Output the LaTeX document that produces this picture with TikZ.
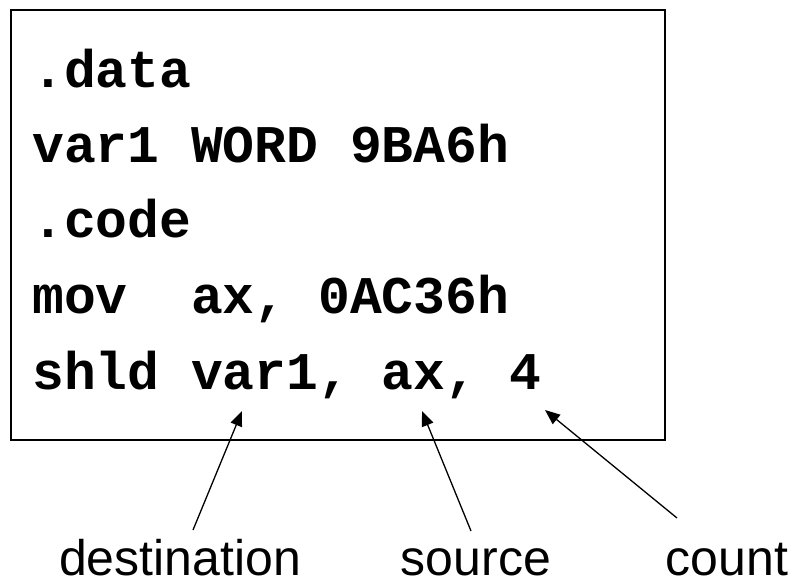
\documentclass[tikz,border=0pt]{standalone}
\usepackage{fontspec}
\setmainfont{Liberation Sans}
\newfontfamily\codefont{Liberation Mono}
\usetikzlibrary{arrows.meta}
\tikzset{
  codeline/.style={anchor=base west, inner sep=0pt, font=\codefont\bfseries\fontsize{53}{53}\selectfont},
  lbl/.style={anchor=base, inner sep=0pt, font=\fontsize{50}{50}\selectfont},
  pointer/.style={line width=1.3pt, -{Triangle[length=15pt,width=12pt]}},
  frame/.style={draw, line width=1.5pt}
}
\begin{document}
\begin{tikzpicture}[x=1pt,y=-1pt]
\useasboundingbox (0,0) rectangle (798,584);
\fill[white] (0,0) rectangle (798,584);
\draw[frame] (11,10) rectangle (665,440);
\node[codeline] (l1) at (32,87) {.data};
\node[codeline] (l2) at (32,162) {var1 WORD 9BA6h};
\node[codeline] (l3) at (32,237) {.code};
\node[codeline] (l4) at (32,313) {mov\ \ ax, 0AC36h};
\node[codeline] (l5) at (32,389) {shld var1, ax, 4};
\node[lbl] (dst) at (180,575) {destination};
\node[lbl] (src) at (476,575) {source};
\node[lbl] (cnt) at (727,575) {count};
\coordinate (dstS) at (193,530);
\coordinate (srcS) at (471,531);
\coordinate (cntS) at (677,518);
\coordinate (dstT) at (242,411);
\coordinate (srcT) at (422,411);
\coordinate (cntT) at (545,410);
\draw[pointer] (dstS) -- (dstT);
\draw[pointer] (srcS) -- (srcT);
\draw[pointer] (cntS) -- (cntT);
\end{tikzpicture}
\end{document}
